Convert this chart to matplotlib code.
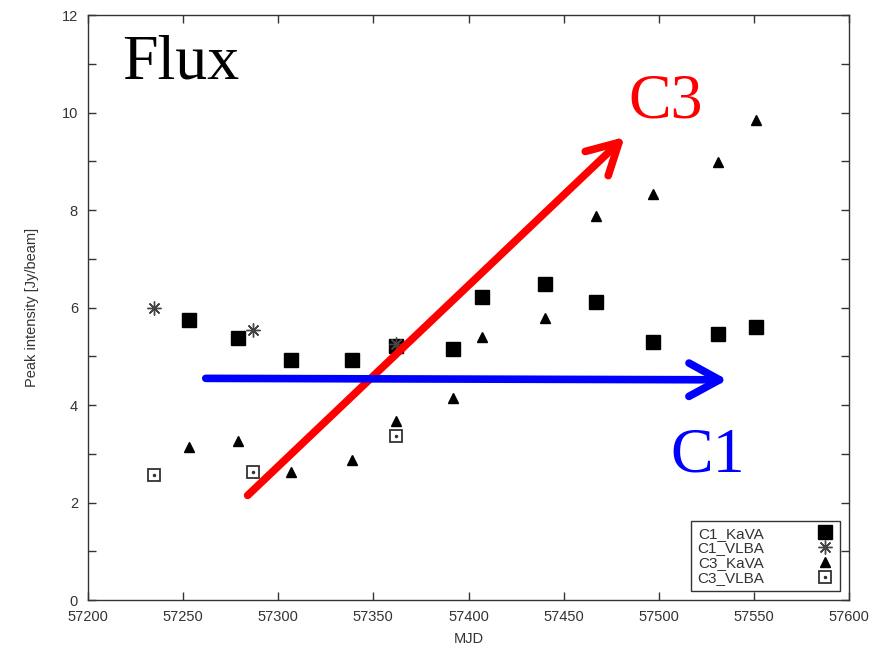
import numpy as np
import matplotlib.pyplot as plt
from matplotlib.legend_handler import HandlerTuple
from matplotlib.ticker import MultipleLocator

# Messepochen (MJD) und Spitzenintensitäten [Jy/beam]
mjd_kava = [57253, 57279, 57307, 57339, 57362, 57392, 57407, 57440, 57467, 57497, 57531, 57551]
mjd_vlba = [57235, 57287, 57362]

c1_kava = [5.74, 5.38, 4.93, 4.92, 5.22, 5.16, 6.21, 6.48, 6.12, 5.30, 5.45, 5.61]
c1_vlba = [6.00, 5.55, 5.25]
c3_kava = [3.14, 3.27, 2.62, 2.87, 3.67, 4.14, 5.40, 5.79, 7.88, 8.34, 8.98, 9.85]
c3_vlba = [2.56, 2.62, 3.37]

x_ticks = [57200, 57250, 57300, 57350, 57400, 57450, 57500, 57550, 57600]
y_ticks = [0, 2, 4, 6, 8, 10, 12]

# Pfeile für die Trends (Start, Ende in Datenkoordinaten)
c3_trend = ((57284, 2.15), (57482, 9.50))
c1_trend = ((57262, 4.55), (57536, 4.52))

plt.rcParams['font.family'] = ['Liberation Sans', 'DejaVu Sans']

fig = plt.figure(figsize=(8.95, 6.56), dpi=100)
ax = fig.add_axes([0.098, 0.085, 0.851, 0.892])

text_col = '#333333'

# 1. Datenpunkte
h_c1k, = ax.plot(mjd_kava, c1_kava, linestyle='none', marker='s', ms=9.5,
                 color='black', label='C1_KaVA')
h_c1v, = ax.plot(mjd_vlba, c1_vlba, linestyle='none', marker=(8, 2, 0), ms=10,
                 color='#444444', mew=1.0, label='C1_VLBA')
h_c3k, = ax.plot(mjd_kava, c3_kava, linestyle='none', marker='^', ms=7.5,
                 color='black', label='C3_KaVA')
h_c3v, = ax.plot(mjd_vlba, c3_vlba, linestyle='none', marker='s', ms=8.5,
                 mfc='white', mec='#333333', mew=1.3, label='C3_VLBA')
h_dot, = ax.plot(mjd_vlba, c3_vlba, linestyle='none', marker='o', ms=1.5,
                 color='#333333')

# 2. Trendpfeile
for (start, end), col in [(c3_trend, '#ff0000'), (c1_trend, '#0000ff')]:
    ax.annotate('', xy=end, xytext=start,
                arrowprops=dict(arrowstyle='->,head_length=1.1,head_width=0.6',
                                color=col, lw=5.5, mutation_scale=20,
                                shrinkA=0, shrinkB=0, capstyle='round'))

# 3. Beschriftungen im Plot
ax.text(57218, 10.7, 'Flux', family='Liberation Serif', fontsize=46, color='black')
ax.text(57484, 9.9, 'C3', family='Liberation Serif', fontsize=46, color='#ff0000')
ax.text(57506, 2.65, 'C1', family='Liberation Serif', fontsize=46, color='#0000ff')

# 4. Achsen
ax.set_xlim(57200, 57600)
ax.set_ylim(0, 12)
ax.set_xticks(x_ticks)
ax.set_yticks(y_ticks)
ax.yaxis.set_minor_locator(MultipleLocator(1))
ax.tick_params(which='both', direction='in', top=True, right=True,
               length=6, width=1, color='#333333', labelsize=10.5,
               labelcolor=text_col, pad=7)
for spine in ax.spines.values():
    spine.set_color('#333333')
    spine.set_linewidth(1.0)

ax.set_xlabel('MJD', fontsize=10.5, color=text_col, labelpad=6)
ax.set_ylabel('Peak intensity [Jy/beam]', fontsize=10.5, color=text_col, labelpad=16)

# 5. Legende im gnuplot-Stil (Text links, Symbol rechts)
leg = ax.legend([h_c1k, h_c1v, h_c3k, (h_c3v, h_dot)],
                ['C1_KaVA', 'C1_VLBA', 'C3_KaVA', 'C3_VLBA'],
                handler_map={tuple: HandlerTuple(ndivide=1)},
                loc='lower right', markerfirst=False, fontsize=11,
                fancybox=False, framealpha=1, edgecolor='#333333',
                borderaxespad=0.6, labelspacing=0.05, handlelength=1.2,
                handletextpad=3.4, borderpad=0.4)
leg.get_frame().set_linewidth(1.0)
for t in leg.get_texts():
    t.set_color(text_col)

fig.savefig('out.png', dpi=100)
